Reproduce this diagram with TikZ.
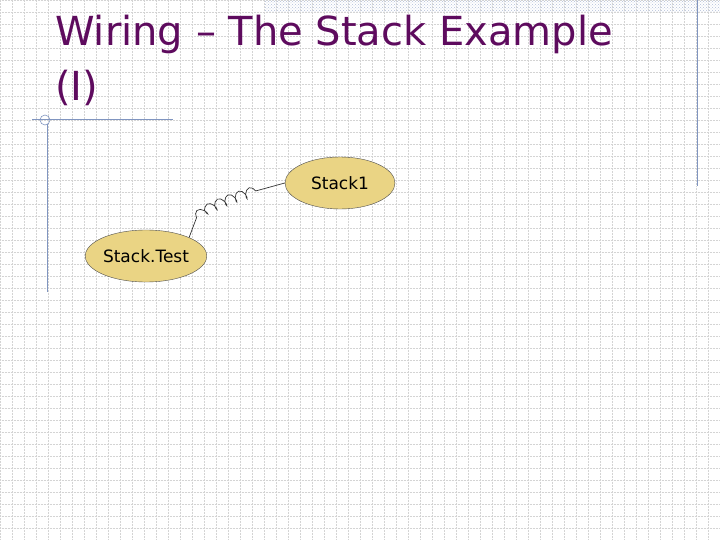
\documentclass[tikz,border=0pt]{standalone}
\usepackage{fontspec}
\setmainfont{DejaVu Sans}
\usetikzlibrary{decorations.pathmorphing,patterns,shapes.geometric}
\definecolor{titlec}{HTML}{5E0B5E}
\definecolor{nodefill}{HTML}{EAD484}
\definecolor{gridc}{HTML}{D4D4D4}
\definecolor{linec}{HTML}{8095C0}
\begin{document}
\begin{tikzpicture}[x=1pt,y=-1pt,
  ell/.style={ellipse,draw=black!70,fill=nodefill,minimum width=#1,minimum height=52,inner sep=0pt,font=\fontsize{17}{20}\selectfont},
  ]
\useasboundingbox (0,0) rectangle (720,540);
\fill[white] (0,0) rectangle (720,540);
\foreach \i in {0,...,60} {
  \draw[gridc,densely dotted,line width=0.5pt] (\i*12,0) -- (\i*12,540);
}
\foreach \j in {0,...,45} {
  \draw[gridc,densely dotted,line width=0.5pt] (0,\j*12) -- (720,\j*12);
}
\fill[pattern=crosshatch dots,pattern color=linec!60] (265,0) rectangle (720,12);
\draw[linec,line width=1pt] (697,0) -- (697,186);
\draw[linec,line width=1pt] (47,124) -- (47,292);
\draw[linec,line width=0.8pt] (32,119) -- (173,119);
\draw[linec,line width=0.6pt] (45,120) circle (5);
\node[anchor=west,text=titlec,font=\fontsize{40}{46}\selectfont,inner sep=0pt] (t1) at (55,34) {Wiring – The Stack Example};
\node[anchor=west,text=titlec,font=\fontsize{40}{46}\selectfont,inner sep=0pt] (t2) at (55,88) {(I)};
\path (340,183) node[ell=110] (s1) {Stack1};
\path (146,256) node[ell=116] (st) {Stack.Test};
\draw[black!80,line width=0.7pt,decorate,decoration={coil,aspect=0.5,segment length=11pt,amplitude=5pt,pre length=22pt,post length=24pt}]
  (st.north east) .. controls (185,214) and (220,200) .. (s1.west);
\end{tikzpicture}
\end{document}
